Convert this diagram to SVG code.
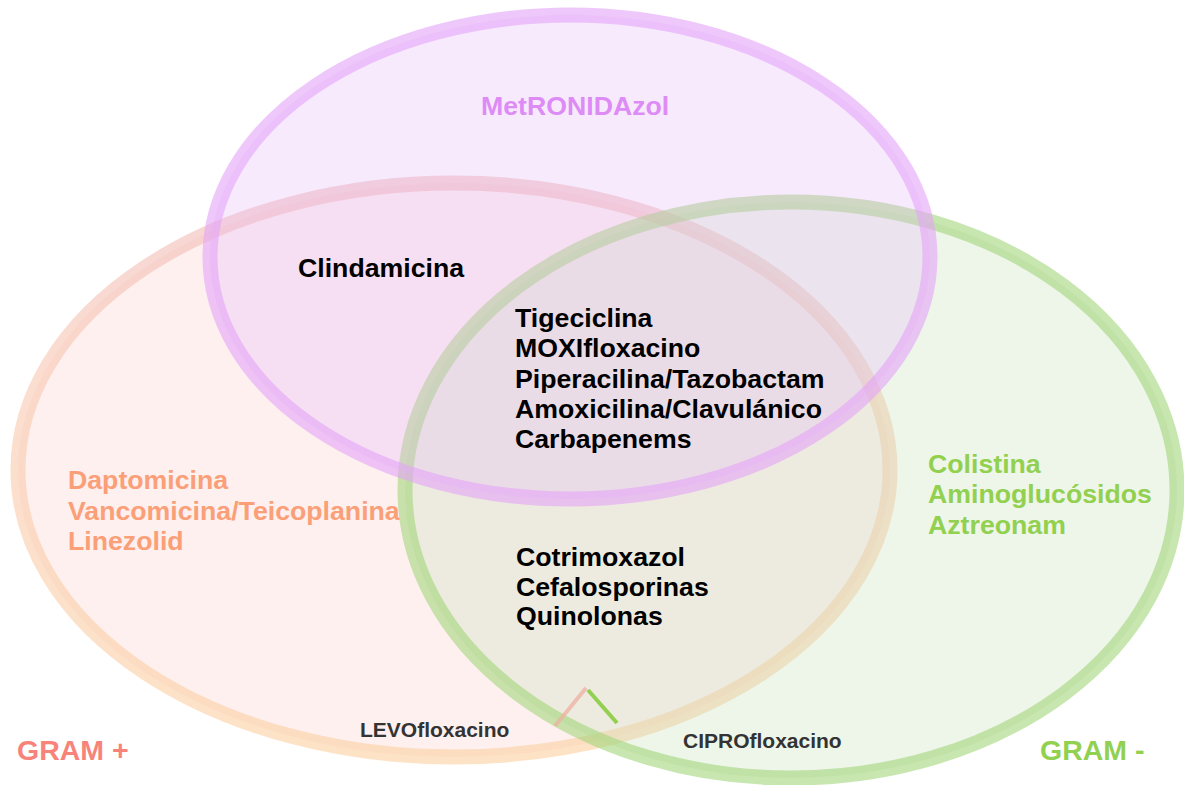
<svg xmlns="http://www.w3.org/2000/svg" width="1184" height="785" viewBox="0 0 1184 785">
<style>
.t{font-family:"Liberation Sans",Arial,sans-serif;font-weight:bold;}
.blk{fill:#000;font-size:26.7px;}
.sm{fill:#333;font-size:21px;}
</style>
<defs>
<linearGradient id="og" x1="0" y1="0" x2="0" y2="1">
<stop offset="0" stop-color="#f0b8b8"/>
<stop offset="0.35" stop-color="#f8c8b0"/>
<stop offset="1" stop-color="#fcd0a0"/>
</linearGradient>
</defs>
<rect width="1184" height="785" fill="#fff"/>
<g id="gram-pos">
<ellipse cx="454" cy="470" rx="436" ry="287" fill="#fccdca" fill-opacity="0.3" stroke="url(#og)" stroke-opacity="0.6" stroke-width="15"/>
</g>
<g id="gram-neg">
<ellipse cx="791" cy="490" rx="386" ry="288" fill="#c6e1b9" fill-opacity="0.3" stroke="#a3d57a" stroke-opacity="0.6" stroke-width="15"/>
</g>
<g id="metronidazol">
<ellipse cx="570" cy="257" rx="360" ry="242" fill="#e4b9f8" fill-opacity="0.3" stroke="#e4a3f8" stroke-opacity="0.6" stroke-width="15"/>
</g>
<g id="connectors">
<line x1="555" y1="726" x2="586" y2="688" stroke="#eeb0a0" stroke-opacity="0.75" stroke-width="4"/>
<line x1="588" y1="690" x2="617" y2="723" stroke="#92d050" stroke-width="4"/>
</g>
<g id="labels">
<text class="t" x="481" y="115" font-size="26.7" fill="#de8cf5">MetRONIDAzol</text>
<text class="t blk" x="298" y="277">Clindamicina</text>
<text class="t blk" x="515" y="327">Tigeciclina</text>
<text class="t blk" x="515" y="357">MOXIfloxacino</text>
<text class="t blk" x="515" y="388">Piperacilina/Tazobactam</text>
<text class="t blk" x="515" y="418">Amoxicilina/Clavulánico</text>
<text class="t blk" x="515" y="448">Carbapenems</text>
<text class="t blk" x="516" y="566">Cotrimoxazol</text>
<text class="t blk" x="516" y="596">Cefalosporinas</text>
<text class="t blk" x="516" y="625">Quinolonas</text>
<text class="t" x="68" y="489" font-size="26.7" fill="#fa9f78">Daptomicina</text>
<text class="t" x="68" y="520" font-size="26.7" fill="#fa9f78">Vancomicina/Teicoplanina</text>
<text class="t" x="68" y="550" font-size="26.7" fill="#fa9f78">Linezolid</text>
<text class="t" x="928" y="473" font-size="26.7" fill="#92d050">Colistina</text>
<text class="t" x="928" y="503" font-size="26.7" fill="#92d050">Aminoglucósidos</text>
<text class="t" x="928" y="534" font-size="26.7" fill="#92d050">Aztreonam</text>
<text class="t sm" x="360" y="737">LEVOfloxacino</text>
<text class="t sm" x="683" y="748">CIPROfloxacino</text>
<text class="t" x="17" y="760" font-size="28.5" fill="#f8837a">GRAM +</text>
<text class="t" x="1040" y="760" font-size="28.5" fill="#92d050">GRAM -</text>
</g>
</svg>
